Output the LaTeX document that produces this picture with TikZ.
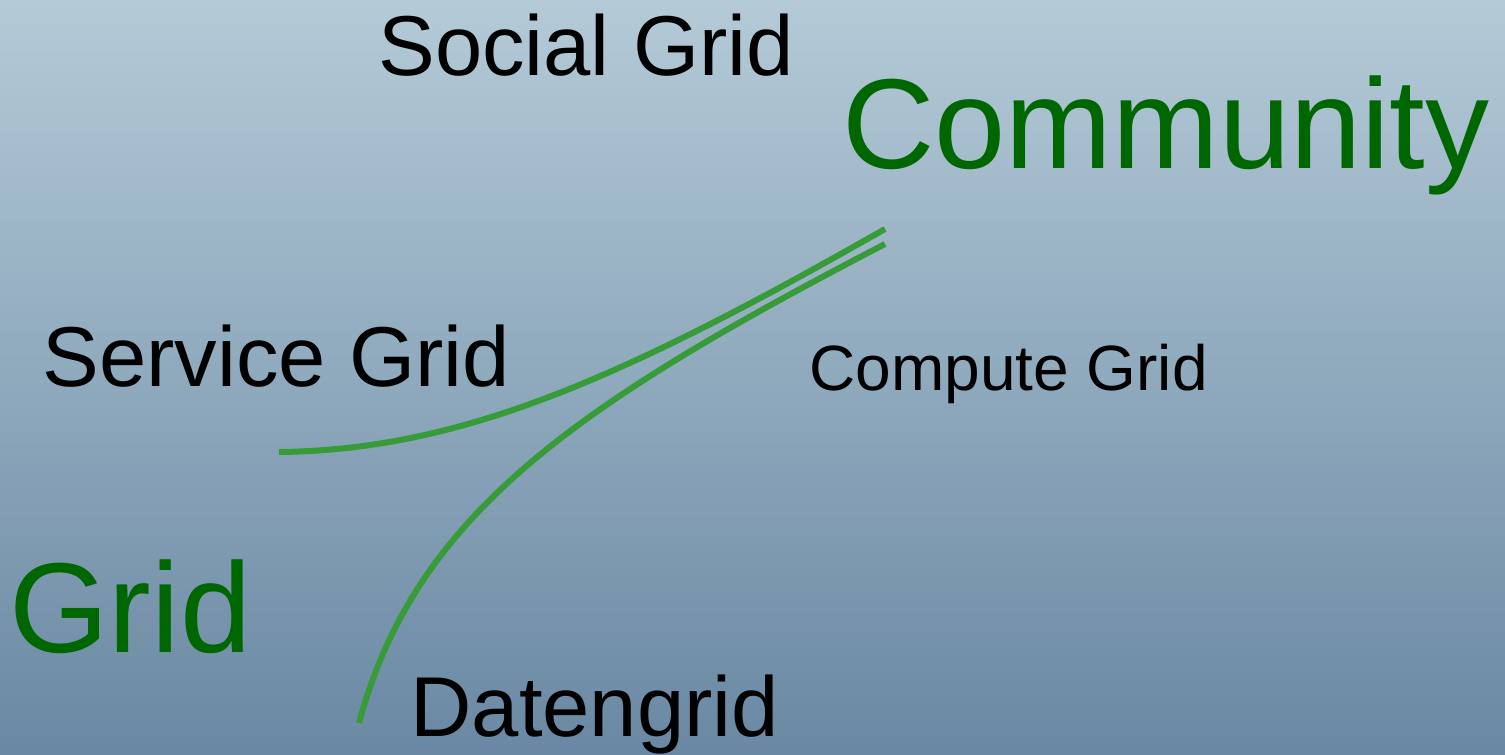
\documentclass[tikz,border=0pt]{standalone}
\usepackage{fontspec}
\setmainfont{Liberation Sans}
\usepackage{tikz}
\definecolor{bgtop}{HTML}{B4CAD7}
\definecolor{bgbottom}{HTML}{6A88A3}
\definecolor{keygreen}{HTML}{006600}
\definecolor{linegreen}{HTML}{379B37}
\begin{document}
\begin{tikzpicture}[x=0.5pt, y=-0.5pt,
                    textnode/.style={inner sep=0pt, anchor=base west, text=black, font=\fontsize{42.5}{48}\selectfont},
                    smallnode/.style={inner sep=0pt, anchor=base west, text=black, font=\fontsize{32}{36}\selectfont},
                    keynode/.style={inner sep=0pt, anchor=base west, text=keygreen, font=\fontsize{64}{72}\selectfont},
                    branch/.style={draw=linegreen, line width=3pt}]
                \shade[top color=bgtop, bottom color=bgbottom] (0,0) rectangle (1505,755);
                \useasboundingbox (0,0) rectangle (1505,755);
                \node[textnode] (social) at (378,75) {Social Grid};
                \node[keynode] (community) at (842,168) {Community};
                \node[textnode] (service) at (42,386) {Service Grid};
                \node[smallnode] (compute) at (809,390) {Compute Grid};
                \node[keynode] (grid) at (9,652) {Grid};
                \node[textnode] (daten) at (410,736) {Datengrid};
                \coordinate (servicefoot) at (279,452);
                \coordinate (gridfoot) at (359,723);
                \coordinate (topa) at (885,229);
                \coordinate (topb) at (885,244);
                \draw[branch] (servicefoot) .. controls (460,450) and (620,380) .. (topa);
                \draw[branch] (gridfoot) .. controls (415,515) and (575,405) .. (topb);
            \end{tikzpicture}
\end{document}
